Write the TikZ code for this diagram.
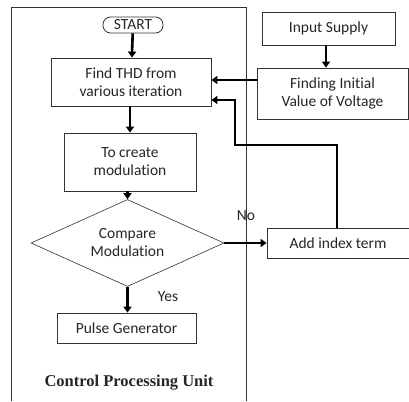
\documentclass[tikz,border=0pt]{standalone}
\usepackage{fontspec}
\setmainfont[Ligatures=NoCommon]{Carlito}
\newfontfamily\timesfont{Liberation Serif}
\usetikzlibrary{arrows.meta,shapes.geometric}
\begin{document}
\begin{tikzpicture}[x=1pt,y=-1pt,
  every node/.style={font=\fontsize{15.5}{18}\selectfont, text=black!85},
  box/.style={draw=black!80, line width=0.8pt, inner sep=0pt, align=center},
  flow/.style={line width=2.6pt, -{Triangle[length=6pt,width=8pt]}},
  back/.style={line width=1.8pt, -{Triangle[length=6pt,width=8pt]}}]
\useasboundingbox (0,0) rectangle (409,401);
\fill[white] (0,0) rectangle (409,401);
% control processing unit frame
\draw[line width=0.9pt, black!80] (11,401) -- (11,7) -- (246,7) -- (246,401);
\node[box, rounded corners=7.5pt, minimum width=60pt, minimum height=16pt] (start) at (133,25) {START};
\node[box, minimum width=160pt, minimum height=48pt] (thd) at (131,82) {Find THD from\\various iteration};
\node[box, minimum width=132pt, minimum height=58pt] (mod) at (130,162) {To create\\modulation};
\node[draw=black!80, line width=0.6pt, diamond, aspect=2.24, inner sep=0pt, minimum width=193pt, minimum height=87pt, align=center] (cmp) at (127.5,243) {Compare\\Modulation};
\node[box, minimum width=139pt, minimum height=30pt] (pulse) at (126.5,328) {Pulse Generator};
\node[box, minimum width=133pt, minimum height=33pt] (input) at (328.5,28.5) {Input Supply};
\node[box, minimum width=151pt, minimum height=51pt] (init) at (332.5,93.5) {Finding Initial\\Value of Voltage};
\node[box, minimum width=142pt, minimum height=30pt] (add) at (338,243) {Add index term};
\node (yes) at (168,297) {Yes};
\node (no) at (246,216) {No};
\node[font=\timesfont\bfseries\fontsize{16.5}{18}\selectfont] (cpu) at (129,383) {Control Processing Unit};
% connectors
\draw[flow] (start) -- (thd);
\draw[flow] (thd.south -| 130,0) -- (mod.north -| 130,0);
\draw[flow] (mod.south -| 127.5,0) -- (cmp.north);
\draw[flow] (cmp.south) -- (pulse.north -| cmp.south);
\draw[flow] (cmp.east) -- (add.west);
\draw[flow] (input.south -| 326,0) -- (init.north -| 326,0);
\draw[flow] (init.west |- 0,80) -- (thd.east |- 0,80);
\coordinate (c1) at (337,145);
\coordinate (c2) at (235,145);
\coordinate (c3) at (235,100);
\draw[back] (add.north -| c1) -- (c1) -- (c2) -- (c3) -- (thd.east |- c3);
\end{tikzpicture}
\end{document}
